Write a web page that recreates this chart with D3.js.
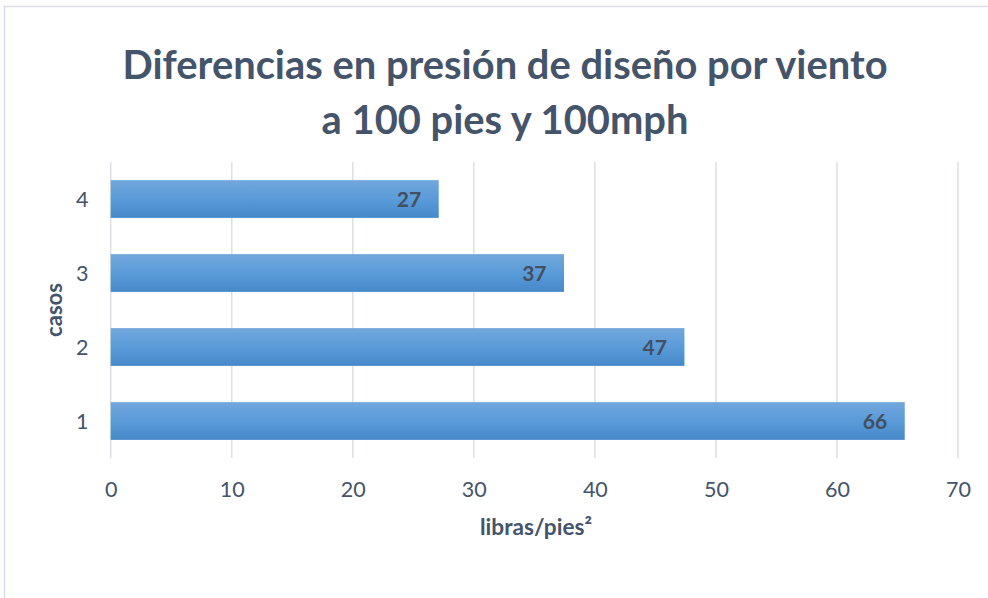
<!DOCTYPE html>
<html>
<head>
<meta charset="utf-8">
<script src="https://cdn.jsdelivr.net/npm/d3@7"></script>
<style>
  html, body { margin: 0; padding: 0; background: #ffffff; }
  svg { display: block; }
  text { font-family: Lato, "Open Sans", sans-serif; }
</style>
</head>
<body>
<svg id="chart" width="988" height="598"></svg>
<script>
// ---- data ----
const titleLines = ["Diferencias en presión de diseño por viento", "a 100 pies y 100mph"];
const categories = ["1", "2", "3", "4"];
const values = [65.6, 47.4, 37.45, 27.1];
const xTicks = [0, 10, 20, 30, 40, 50, 60, 70];
const xTitle = "libras/pies²";
const yTitle = "casos";

// ---- layout ----
const W = 988, H = 598;
const plot = { left: 110.7, right: 958, top: 162, bottom: 458 };
const textColor = "#44546A";

const svg = d3.select("#chart");

// chart border
svg.append("rect")
  .attr("x", 4.5).attr("y", 6.5)
  .attr("width", 1010).attr("height", 620)
  .attr("fill", "#ffffff")
  .attr("stroke", "#d9dee6").attr("stroke-width", 1.5);

// gradient for bars
const defs = svg.append("defs");
const grad = defs.append("linearGradient").attr("id", "barGrad")
  .attr("x1", 0).attr("y1", 0).attr("x2", 0).attr("y2", 1);
grad.append("stop").attr("offset", "0%").attr("stop-color", "#72a7dc");
grad.append("stop").attr("offset", "50%").attr("stop-color", "#5a9bd9");
grad.append("stop").attr("offset", "100%").attr("stop-color", "#4688c9");

// scales
const x = d3.scaleLinear().domain([0, 70]).range([plot.left, plot.right]);
const y = d3.scaleBand()
  .domain(categories.slice().reverse())
  .range([plot.top, plot.bottom])
  .paddingInner(0.49)
  .paddingOuter(0.245);

// helper: fit text to a target width
function fit(sel, target) {
  const node = sel.node();
  const fs = parseFloat(sel.attr("font-size"));
  const w = node.getComputedTextLength();
  if (w > 0) sel.attr("font-size", (fs * target / w).toFixed(2));
  return sel;
}

// gridlines
svg.append("g").selectAll("line")
  .data(xTicks)
  .join("line")
  .attr("x1", d => x(d)).attr("x2", d => x(d))
  .attr("y1", plot.top).attr("y2", plot.bottom)
  .attr("stroke", "#dde1e7").attr("stroke-width", 1.6);

// x axis (labels only)
const xAxis = d3.axisBottom(x).tickValues(xTicks).tickSize(0).tickPadding(0).tickFormat(d3.format("d"));
const gx = svg.append("g").attr("transform", `translate(0, ${plot.bottom + 39})`).call(xAxis);
gx.select(".domain").remove();
gx.selectAll("text")
  .attr("y", 0).attr("dy", 0)
  .attr("font-size", 21.5)
  .attr("font-family", "Lato, 'Open Sans', sans-serif")
  .attr("fill", textColor);

// y axis (labels only)
const yAxis = d3.axisLeft(y).tickSize(0).tickPadding(0);
const gy = svg.append("g").attr("transform", `translate(88.5, 0)`).call(yAxis);
gy.select(".domain").remove();
gy.selectAll("text")
  .attr("x", 0).attr("dy", "0.35em")
  .attr("font-size", 21.5)
  .attr("font-family", "Lato, 'Open Sans', sans-serif")
  .attr("fill", textColor);

// bars
const data = categories.map((c, i) => ({ cat: c, val: values[i] }));
svg.append("g").selectAll("rect")
  .data(data)
  .join("rect")
  .attr("x", x(0))
  .attr("y", d => y(d.cat))
  .attr("width", d => x(d.val) - x(0))
  .attr("height", y.bandwidth())
  .attr("fill", "url(#barGrad)");

// bar labels
const fmt = d3.format(".0f");
svg.append("g").selectAll("text")
  .data(data)
  .join("text")
  .attr("x", d => x(d.val) - 17.5)
  .attr("y", d => y(d.cat) + y.bandwidth() / 2)
  .attr("dy", "0.36em")
  .attr("text-anchor", "end")
  .attr("font-size", 21)
  .attr("font-weight", 700)
  .attr("fill", "#434f60")
  .text(d => fmt(d.val));

// title
const titleBaselines = [79, 134];
const titleTargets = [765, 360];
titleLines.forEach((t, i) => {
  const s = svg.append("text")
    .attr("x", 505).attr("y", titleBaselines[i])
    .attr("text-anchor", "middle")
    .attr("font-size", 34)
    .attr("font-weight", 700)
    .attr("fill", textColor)
    .text(t);
  if (i === 0) fit(s, titleTargets[0]);
});
// second title line uses same size as first
const fs0 = svg.selectAll("text").filter(function () { return d3.select(this).text() === titleLines[0]; }).attr("font-size");
svg.selectAll("text").filter(function () { return d3.select(this).text() === titleLines[1]; }).attr("font-size", fs0);

// x axis title
const xt = svg.append("text")
  .attr("x", 536).attr("y", 535)
  .attr("text-anchor", "middle")
  .attr("font-size", 18)
  .attr("font-weight", 700)
  .attr("fill", textColor)
  .text(xTitle);
fit(xt, 112);

// y axis title
const yt = svg.append("text")
  .attr("transform", "translate(62, 310) rotate(-90)")
  .attr("text-anchor", "middle")
  .attr("font-size", 18)
  .attr("font-weight", 700)
  .attr("fill", textColor)
  .text(yTitle);
fit(yt, 54);
</script>
</body>
</html>
